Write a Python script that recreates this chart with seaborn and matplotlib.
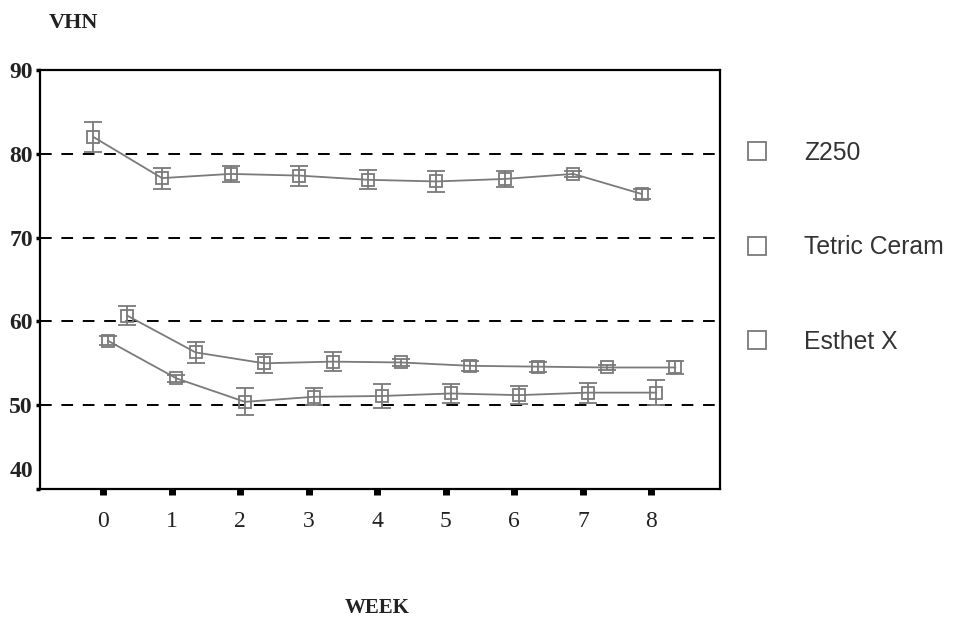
import matplotlib
matplotlib.use("Agg")
import matplotlib.pyplot as plt
from matplotlib.lines import Line2D
from matplotlib.transforms import ScaledTranslation
import pandas as pd
import seaborn as sns

weeks = [0, 1, 2, 3, 4, 5, 6, 7, 8]
series_names = ["Z250", "Tetric Ceram", "Esthet X"]

z250_mean = [82.0, 77.1, 77.6, 77.4, 76.9, 76.7, 77.0, 77.6, 75.2]
z250_err = [1.8, 1.25, 1.0, 1.2, 1.15, 1.3, 0.95, 0.4, 0.65]

tetric_mean = [57.7, 53.2, 50.4, 51.0, 51.1, 51.4, 51.2, 51.5, 51.5]
tetric_err = [0.5, 0.4, 1.6, 1.0, 1.4, 1.1, 1.1, 1.2, 1.5]

esthet_mean = [60.7, 56.3, 55.0, 55.2, 55.1, 54.7, 54.6, 54.5, 54.5]
esthet_err = [1.15, 1.3, 1.1, 1.1, 0.4, 0.6, 0.6, 0.3, 0.8]

means = {"Z250": z250_mean, "Tetric Ceram": tetric_mean, "Esthet X": esthet_mean}
errs = {"Z250": z250_err, "Tetric Ceram": tetric_err, "Esthet X": esthet_err}

# small horizontal shift of each group, as in the original clustered plot
shift = {"Z250": -0.14, "Tetric Ceram": 0.07, "Esthet X": 0.35}

rows = []
for name in series_names:
    for w, m, e in zip(weeks, means[name], errs[name]):
        rows.append({"week": w, "pos": w + shift[name], "vhn": m, "err": e, "material": name})
df = pd.DataFrame(rows)

sns.set_theme(style="white")
plt.rcParams["font.family"] = ["Liberation Serif", "DejaVu Serif"]

gray = "#7a7a7a"
fig = plt.figure(figsize=(9.62, 6.2), dpi=100)
ax = fig.add_axes([40 / 962, 1 - 489 / 620, 680 / 962, 419 / 620])

for y in [50, 60, 70, 80]:
    ax.axhline(y, color="black", lw=1.4, dashes=(6, 5), zorder=1)

for name in series_names:
    sub = df[df["material"] == name]
    sns.lineplot(
        data=sub, x="pos", y="vhn", ax=ax, color=gray, lw=1.3,
        marker="s", markersize=8, markerfacecolor="none",
        markeredgecolor=gray, markeredgewidth=1.3, zorder=3,
    )
    ax.errorbar(sub["pos"], sub["vhn"], yerr=sub["err"], fmt="none",
                ecolor=gray, elinewidth=1.3, capsize=6.5, capthick=1.3, zorder=3)

ax.set_xlim(-0.92, 9.0)
ax.set_ylim(40, 90)
ax.set_xticks(weeks)
ax.set_xticklabels([str(w) for w in weeks])
ax.set_yticks([40, 50, 60, 70, 80, 90])
ax.set_xlabel("")
ax.set_ylabel("")

for s in ax.spines.values():
    s.set_color("black")
    s.set_linewidth(1.6)

ax.tick_params(axis="x", bottom=True, direction="out", length=4, width=5, color="black",
               labelsize=17, pad=12, labelcolor="#222222")
ax.tick_params(axis="y", left=True, direction="out", length=3, width=2.5, color="black",
               labelsize=17, pad=2, labelcolor="#222222")
for lab in ax.get_yticklabels():
    lab.set_fontweight("bold")
ylabs = ax.get_yticklabels()
ylabs[0].set_transform(ylabs[0].get_transform() + ScaledTranslation(0, 0.2, fig.dpi_scale_trans))

fig.text(73 / 962, 1 - 23 / 620, "VHN", ha="center", va="center",
         fontsize=16, fontweight="bold", color="#222222")
fig.text(377 / 962, 1 - 608 / 620, "WEEK", ha="center", va="center",
         fontsize=15, fontweight="bold", color="#222222")

handles = [Line2D([], [], ls="none", marker="s", markersize=13, markerfacecolor="white",
                  markeredgecolor=gray, markeredgewidth=1.3) for _ in series_names]
fig.legend(handles, series_names, loc="upper left", bbox_to_anchor=(745 / 962, 1 - 141 / 620),
           frameon=False, prop={"family": "Liberation Sans", "size": 17.8},
           labelcolor="#333333", labelspacing=2.85, handletextpad=1.38,
           handlelength=1.0, borderpad=0, borderaxespad=0)

fig.savefig("out.png", dpi=100)
plt.close(fig)
